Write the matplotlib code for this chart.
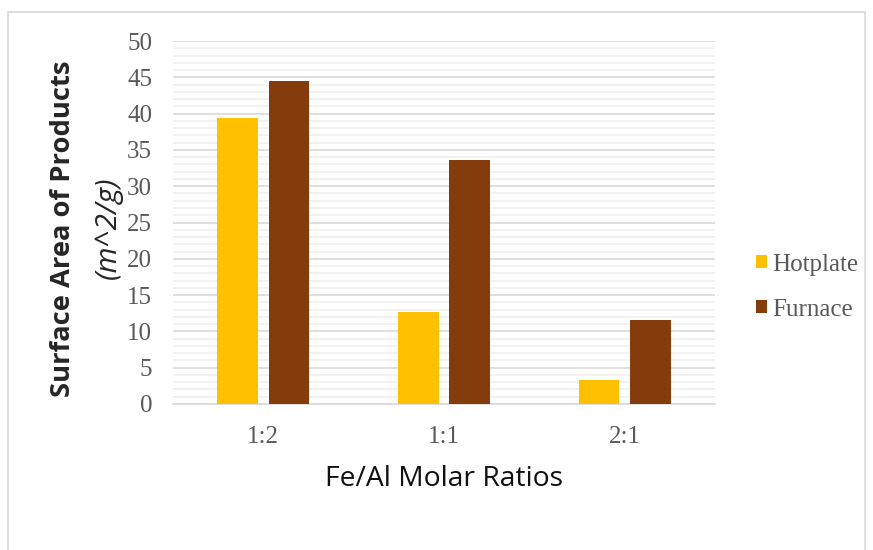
import matplotlib.pyplot as plt
import numpy as np
from matplotlib.patches import Rectangle

ratios = ["1:2", "1:1", "2:1"]
hotplate = [39.35, 12.7, 3.36]
furnace = [44.5, 33.6, 11.55]
series_names = ["Hotplate", "Furnace"]
colors = ["#FFC000", "#843C0C"]

fig = plt.figure(figsize=(8.73, 5.5), dpi=100)
ax = fig.add_axes([173 / 873, 1 - 404 / 550, (715 - 173) / 873, (404 - 41) / 550])

x = np.arange(len(ratios))
w = 0.224
off = 0.142
ax.bar(x - off, hotplate, w, color=colors[0], label=series_names[0], zorder=3)
ax.bar(x + off, furnace, w, color=colors[1], label=series_names[1], zorder=3)

ax.set_xlim(-0.5, 2.5)
ax.set_ylim(0, 50)
ax.set_yticks(np.arange(0, 51, 5))
ax.set_yticks(np.arange(0, 51, 1), minor=True)
ax.grid(axis="y", which="major", color="#d9d9d9", lw=1.2, zorder=0)
ax.grid(axis="y", which="minor", color="#f0f0f0", lw=1.2, zorder=0)
ax.set_xticks(x)
ax.set_xticklabels(ratios)
for s in ["top", "right", "left"]:
    ax.spines[s].set_visible(False)
ax.spines["bottom"].set_color("#d9d9d9")
ax.spines["bottom"].set_linewidth(1.2)
ax.tick_params(axis="both", which="both", length=0, labelsize=18, labelcolor="#595959")
ax.tick_params(axis="y", pad=15)
ax.tick_params(axis="x", pad=16)
for lbl in ax.get_xticklabels() + ax.get_yticklabels():
    lbl.set_fontfamily("Liberation Serif")

fig.text(444 / 873, 1 - 479 / 550, "Fe/Al Molar Ratios", fontsize=20.3,
         fontfamily="Open Sans", ha="center", va="center", color="#111111")
fig.text(63 / 873, 1 - 229 / 550, "Surface Area of Products", rotation=90,
         fontsize=19.7, fontweight="bold", fontfamily="Open Sans",
         ha="center", va="center", color="#262626")
fig.text(108 / 873, 1 - 228 / 550, "(m^2/g)", rotation=90, fontsize=21.5,
         fontfamily="Open Sans", style="italic", ha="center", va="center",
         color="#262626")

leg = fig.legend(loc="center left", bbox_to_anchor=(756 / 873, 1 - 287 / 550),
                 frameon=False, prop={"family": "Liberation Serif", "size": 18},
                 handlelength=0.45, handleheight=0.45, handletextpad=0.2,
                 labelspacing=0.92, labelcolor="#595959",
                 borderpad=0, borderaxespad=0)

fig.patches.append(Rectangle((8 / 873, -0.1), (865 - 8) / 873, 1.1 - 12 / 550,
                             transform=fig.transFigure, fill=False,
                             edgecolor="#d9d9d9", lw=1.2))

fig.savefig("out.png", dpi=100)
